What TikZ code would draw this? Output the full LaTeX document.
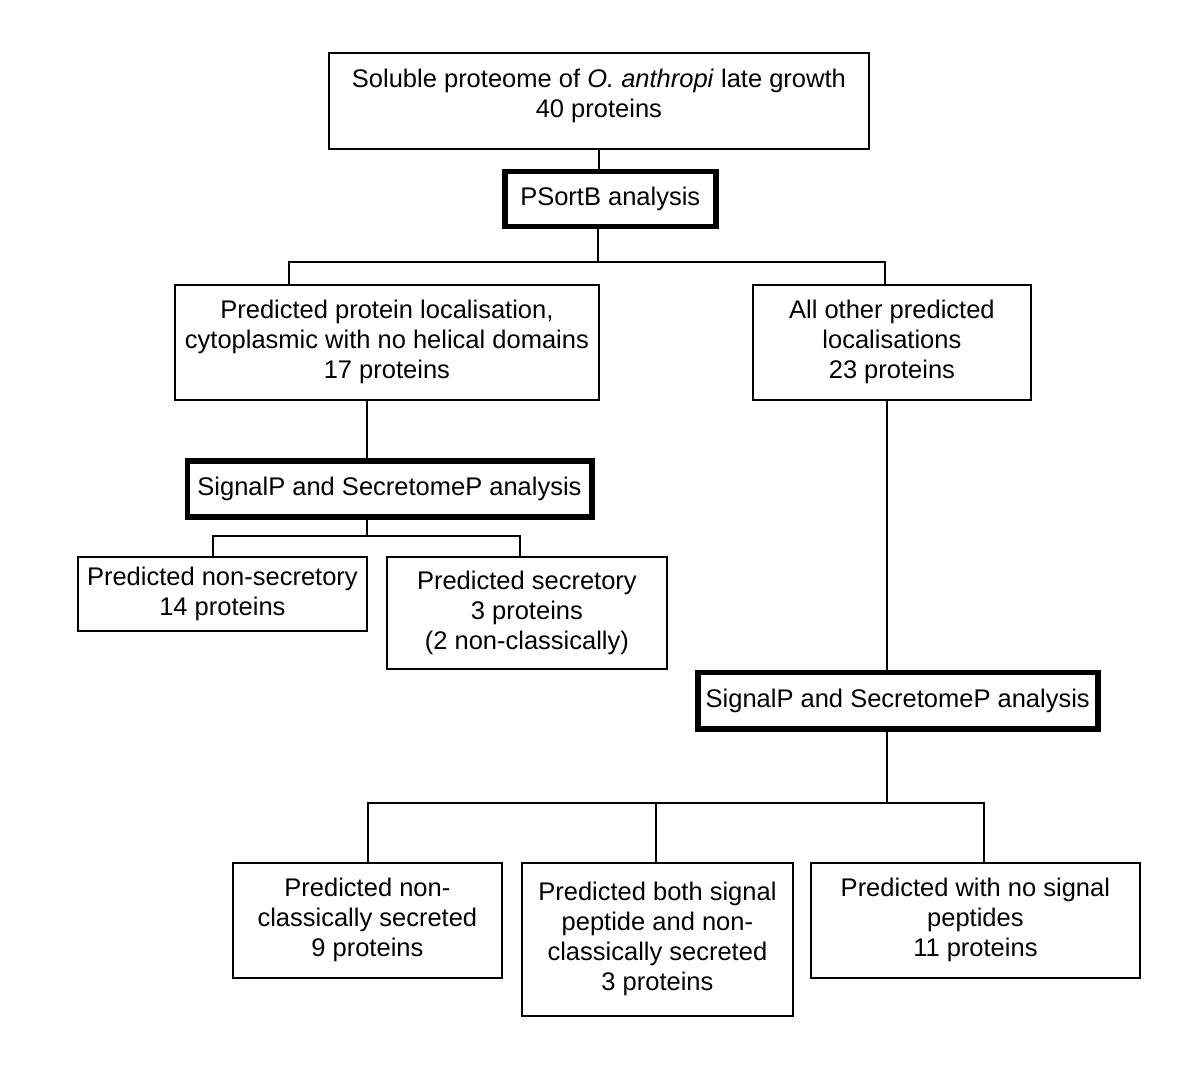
\documentclass[tikz,border=0pt]{standalone}
\usepackage{fontspec}
\setmainfont{Liberation Sans}
\usepackage{tikz}
\usetikzlibrary{positioning}
\tikzset{
  every picture/.style = {
    x = 1pt,
    y = -1pt,
    line width = 1.8pt,
  }
  ,
  result/.style = {
    rectangle,
    draw,
    align = center,
    anchor = north west,
    inner sep = 0pt,
    font = \fontsize{25.5}{30}\selectfont
  }
  , % analysis steps
  analysis/.style = {
    result,
    line width = 5.5pt
  }
  , % box sizes
  boxsize/.style 2 args = {
    minimum width = #1pt,
    minimum height = #2pt
  }
}

\begin{document}
\begin{tikzpicture}
      \useasboundingbox (0,0) rectangle (1200,1083);

      \node [result, boxsize={540}{96}] (soluble) at (328,52)
            {Soluble proteome of \textit{O. anthropi} late growth\\40 proteins\\[-14pt]\mbox{}};
      \node [analysis, boxsize={211}{55}] (psortb) at (502,169) {PSortB analysis};
      \node [result, boxsize={424}{115}] (cyto) at (174,284)
            {Predicted protein localisation,\\cytoplasmic with no helical domains\\17 proteins};
      \node [result, boxsize={278}{115}] (other) at (752,284)
            {All other predicted\\localisations\\23 proteins};

      \node [analysis, boxsize={404.5}{56}] (sigL) at (184.5,458) {SignalP and SecretomeP analysis};
      \node [result, boxsize={289}{74}] (nonsec) at (77,556) {Predicted non-secretory\\14 proteins};
      \node [result, boxsize={280}{112}] (sec) at (386,556)
            {Predicted secretory\\3 proteins\\(2 non-classically)};

      \node [analysis, boxsize={400}{56.5}] (sigR) at (695,669.5) {SignalP and SecretomeP analysis};
      \node [result, boxsize={269}{115}] (noncl) at (232,862)
            {Predicted non-\\classically secreted\\9 proteins};
      \node [result, boxsize={271}{153}] (both) at (521,862)
            {Predicted both signal\\peptide and non-\\classically secreted\\3 proteins};
      \node [result, boxsize={329}{115}] (nosig) at (810,862)
            {Predicted with no signal\\peptides\\11 proteins};

      % splits
      \coordinate (j1) at (598,262);
      \coordinate (j1l) at (289,262);
      \coordinate (j1r) at (885,262);
      \coordinate (j2) at (367,536);
      \coordinate (j2l) at (213,536);
      \coordinate (j2r) at (520,536);
      \coordinate (j3) at (887,803);
      \coordinate (j3l) at (368,803);
      \coordinate (j3m) at (656,803);
      \coordinate (j3r) at (984,803);

      \draw (soluble.south) -- (psortb.north -| soluble.south);
      \draw (psortb.south -| j1) -- (j1);
      \draw (cyto.north -| j1l) |- (j1r) -- (other.north -| j1r);

      \draw (cyto.south -| j2) -- (sigL.north -| j2);
      \draw (sigL.south -| j2) -- (j2);
      \draw (nonsec.north -| j2l) |- (j2r) -- (sec.north -| j2r);

      \draw (other.south -| j3) -- (sigR.north -| j3);
      \draw (sigR.south -| j3) -- (j3);
      \draw (noncl.north -| j3l) |- (j3r) -- (nosig.north -| j3r);
      \draw (j3m) -- (both.north -| j3m);

\end{tikzpicture}
\end{document}
